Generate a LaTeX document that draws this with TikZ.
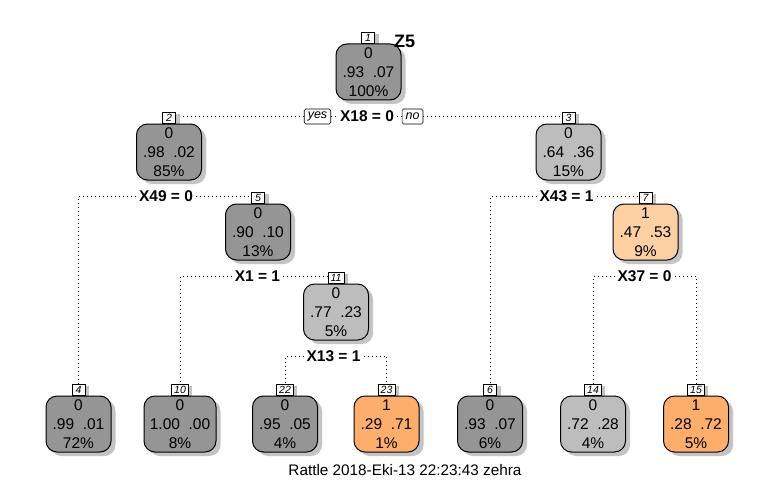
\documentclass[tikz,border=0pt]{standalone}
\usepackage{fontspec}
\setmainfont{Liberation Sans}
\usetikzlibrary{shadows,backgrounds}
\definecolor{dg}{HTML}{959595}
\definecolor{mg}{HTML}{BDBDBD}
\definecolor{lo}{HTML}{FDD0A2}
\definecolor{og}{HTML}{FDAE6B}
\definecolor{shd}{HTML}{C4C4C4}
\begin{document}
\begin{tikzpicture}[x=1pt,y=-1pt,
 box/.style={draw=black, line width=1pt, rounded corners=11pt, minimum width=65pt, minimum height=56pt, inner sep=0pt, align=center,
   font=\fontsize{15.5}{19}\selectfont, execute at begin node={\rule{0pt}{14pt}},
   drop shadow={shadow xshift=4.5pt, shadow yshift=-4pt, fill=shd, opacity=1}},
 tag/.style={draw=black, line width=0.6pt, fill=white, anchor=south, minimum height=11pt, minimum width=13pt, inner ysep=0.5pt, inner xsep=2.5pt,
   font=\fontsize{10.5}{11}\selectfont\itshape,
   drop shadow={shadow xshift=4pt, shadow yshift=-1pt, fill=shd, opacity=1}},
 split/.style={font=\fontsize{15.5}{16}\selectfont\bfseries, inner sep=3pt},
 yn/.style={draw=black, line width=0.6pt, fill=white, rounded corners=1.5pt, minimum height=15pt, inner xsep=3.5pt, inner ysep=1pt,
   font=\fontsize{12.5}{13}\selectfont\itshape},
 conn/.style={line width=0.8pt, dash pattern=on 0.8pt off 3.2pt},
]
\useasboundingbox (0,0) rectangle (775,484);

% tags
\node[tag] (t1) at (368,44) {1};
\node[tag] (t2) at (169,124) {2};
\node[tag] (t3) at (568.5,124) {3};
\node[tag] (t5) at (258,204) {5};
\node[tag] (t7) at (645.5,204) {7};
\node[tag] (t11) at (336,284) {11};
\node[tag] (t4) at (78.5,396) {4};
\node[tag] (t10) at (180,396) {10};
\node[tag] (t22) at (285,396) {22};
\node[tag] (t23) at (386.5,396) {23};
\node[tag] (t6) at (490,396) {6};
\node[tag] (t14) at (593,396) {14};
\node[tag] (t15) at (696,396) {15};

% boxes
\node[box, fill=dg] (n1) at (368.5,72) {0\\.93~~.07\\100\%};
\node[box, fill=dg] (n2) at (169,152) {0\\.98~~.02\\85\%};
\node[box, fill=mg] (n3) at (568.5,152) {0\\.64~~.36\\15\%};
\node[box, fill=dg] (n5) at (258,232) {0\\.90~~.10\\13\%};
\node[box, fill=lo] (n7) at (645.5,232) {1\\.47~~.53\\9\%};
\node[box, fill=mg] (n11) at (336,312) {0\\.77~~.23\\5\%};
\node[box, fill=dg] (n4) at (78.5,424) {0\\.99~~.01\\72\%};
\node[box, fill=dg, minimum width=72pt] (n10) at (180,424) {0\\1.00~~.00\\8\%};
\node[box, fill=dg] (n22) at (285,424) {0\\.95~~.05\\4\%};
\node[box, fill=og] (n23) at (386.5,424) {1\\.29~~.71\\1\%};
\node[box, fill=dg] (n6) at (490,424) {0\\.93~~.07\\6\%};
\node[box, fill=mg] (n14) at (593,424) {0\\.72~~.28\\4\%};
\node[box, fill=og] (n15) at (696,424) {1\\.28~~.72\\5\%};

% title
\node[anchor=west, inner sep=0pt, font=\fontsize{18}{18}\selectfont\bfseries] (ttl) at (394,41) {Z5};

% splits
\node[split] (s1) at (367,116.5) {X18 = 0};
\node[yn] (yes) at (317.5,116.5) {yes};
\node[yn] (no) at (412.5,116.5) {no};
\node[split] (s2) at (166,196.5) {X49 = 0};
\node[split] (s3) at (566.5,196.5) {X43 = 1};
\node[split] (s5) at (257.5,276.5) {X1 = 1};
\node[split] (s7) at (644.5,276.5) {X37 = 0};
\node[split] (s11) at (333.5,356) {X13 = 1};

% caption
\node[font=\fontsize{15.3}{16}\selectfont] (cap) at (405,470) {Rattle 2018-Eki-13 22:23:43 zehra};

\begin{pgfonlayer}{background}
\fill[white] (0,0) rectangle (775,484);
\draw[conn] (yes.west) -| (t2.north);
\draw[conn] (yes.east) -- (s1.west);
\draw[conn] (s1.east) -- (no.west);
\draw[conn] (no.east) -| (t3.north);
\draw[conn] (s2.west) -| (t4.north);
\draw[conn] (s2.east) -| (t5.north);
\draw[conn] (s3.west) -| (t6.north);
\draw[conn] (s3.east) -| (t7.north);
\draw[conn] (s5.west) -| (t10.north);
\draw[conn] (s5.east) -| (t11.north);
\draw[conn] (s7.west) -| (t14.north);
\draw[conn] (s7.east) -| (t15.north);
\draw[conn] (s11.west) -| (t22.north);
\draw[conn] (s11.east) -| (t23.north);
\end{pgfonlayer}
\end{tikzpicture}
\end{document}
